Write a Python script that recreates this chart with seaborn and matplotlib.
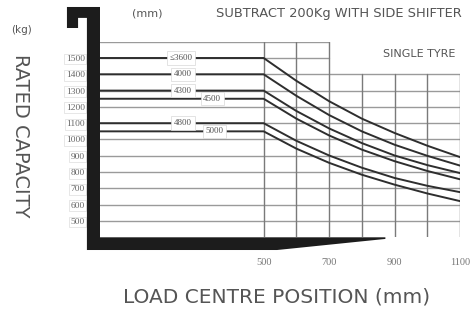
import numpy as np
import pandas as pd
import seaborn as sns
from matplotlib import pyplot as plt
from matplotlib.patches import Polygon

# load centre (mm) and rated capacity (kg) for each mast height
load_centre = [0, 500, 600, 700, 800, 900, 1000, 1100]
masts = ['≤3600', '4000', '4300', '4500', '4800', '5000']
cap_3600 = [1500, 1500, 1360, 1235, 1128, 1040, 962, 892]
cap_4000 = [1400, 1400, 1268, 1150, 1050, 968, 900, 840]
cap_4300 = [1300, 1300, 1175, 1068, 978, 902, 843, 794]
cap_4500 = [1250, 1250, 1128, 1025, 938, 867, 807, 756]
cap_4800 = [1100, 1100, 992, 902, 827, 764, 716, 677]
cap_5000 = [1050, 1050, 944, 857, 784, 723, 669, 622]
y_ticks = [500, 600, 700, 800, 900, 1000, 1100, 1200, 1300, 1400, 1500]
x_ticks = [500, 700, 900, 1100]

capacities = [cap_3600, cap_4000, cap_4300, cap_4500, cap_4800, cap_5000]
rows = []
for m, caps in zip(masts, capacities):
    for x, c in zip(load_centre, caps):
        rows.append({'mast': m, 'load_centre': x, 'capacity': c})
df = pd.DataFrame(rows)

sns.set_style('white')
plt.rcParams['font.family'] = ['DejaVu Sans']

fig = plt.figure(figsize=(4.72, 3.12), dpi=100)
ax = fig.add_axes([100 / 472, 74.7 / 312, 360 / 472, 195.6 / 312])
ax.set_xlim(0, 1100)
ax.set_ylim(400, 1600)
for s in ax.spines.values():
    s.set_visible(False)

# horizontal grid
for yv in range(500, 1700, 100):
    xr = 700 if yv > 1400 else 1100
    ax.plot([0, xr], [yv, yv], color='#9a9a9a', lw=1.0, zorder=1)
# vertical grid
for xv in range(500, 1200, 100):
    yt = 1600 if xv <= 700 else 1400
    ax.plot([xv, xv], [400, yt], color='#7a7a7a', lw=1.0, zorder=1)

sns.lineplot(data=df, x='load_centre', y='capacity', units='mast', estimator=None,
             color='#2e2e2e', lw=1.4, ax=ax, zorder=3, legend=False)

# curve labels sitting on the flat part
label_x = [248, 254, 254, 343, 254, 349]
for m, caps, lx in zip(masts, capacities, label_x):
    ax.text(lx, caps[0], m, ha='center', va='center', fontsize=6.5, color='#555555',
            family='Liberation Serif', zorder=4,
            bbox=dict(boxstyle='square,pad=0.3', fc='white', ec='#d8d8d8', lw=0.5))

# mast / fork frame
frame = Polygon([(-101, 1813), (0, 1813), (0, 400), (872, 400), (872, 390), (541, 322),
                 (-40, 322), (-40, 1746), (-67, 1746), (-67, 1684), (-101, 1684)],
                closed=True, fc='#1c1c1c', ec='none', clip_on=False, zorder=5)
ax.add_patch(frame)

ax.set_yticks(y_ticks)
ax.set_yticklabels([str(v) for v in y_ticks])
ax.set_xticks(x_ticks)
ax.set_xticklabels([str(v) for v in x_ticks])
ax.tick_params(axis='y', length=0, pad=11, labelsize=6.8, labelcolor='#666666')
ax.tick_params(axis='x', length=0, pad=15, labelsize=7.5, labelcolor='#777777')
for lab in ax.get_yticklabels() + ax.get_xticklabels():
    lab.set_family('Liberation Serif')
for lab in ax.get_yticklabels():
    lab.set_bbox(dict(boxstyle='square,pad=0.15', fc='white', ec='#dddddd', lw=0.5))
ax.set_xlabel('')
ax.set_ylabel('')

txt_c = '#555555'
fig.text(22 / 472, 1 - 30 / 312, '(kg)', ha='center', va='center', fontsize=7.5, color=txt_c)
fig.text(20 / 472, 1 - 136 / 312, 'RATED CAPACITY', ha='center', va='center', rotation=-90,
         fontsize=14, color=txt_c)
fig.text(147 / 472, 1 - 14 / 312, '(mm)', ha='center', va='center', fontsize=8, color=txt_c)
fig.text(339 / 472, 1 - 14 / 312, 'SUBTRACT 200Kg WITH SIDE SHIFTER', ha='center', va='center',
         fontsize=9.4, color=txt_c)
fig.text(419 / 472, 1 - 54 / 312, 'SINGLE TYRE', ha='center', va='center', fontsize=8, color=txt_c)
fig.text(277 / 472, 1 - 297 / 312, 'LOAD CENTRE POSITION (mm)', ha='center', va='center',
         fontsize=14.5, color=txt_c)

fig.savefig('out.png', dpi=100)
